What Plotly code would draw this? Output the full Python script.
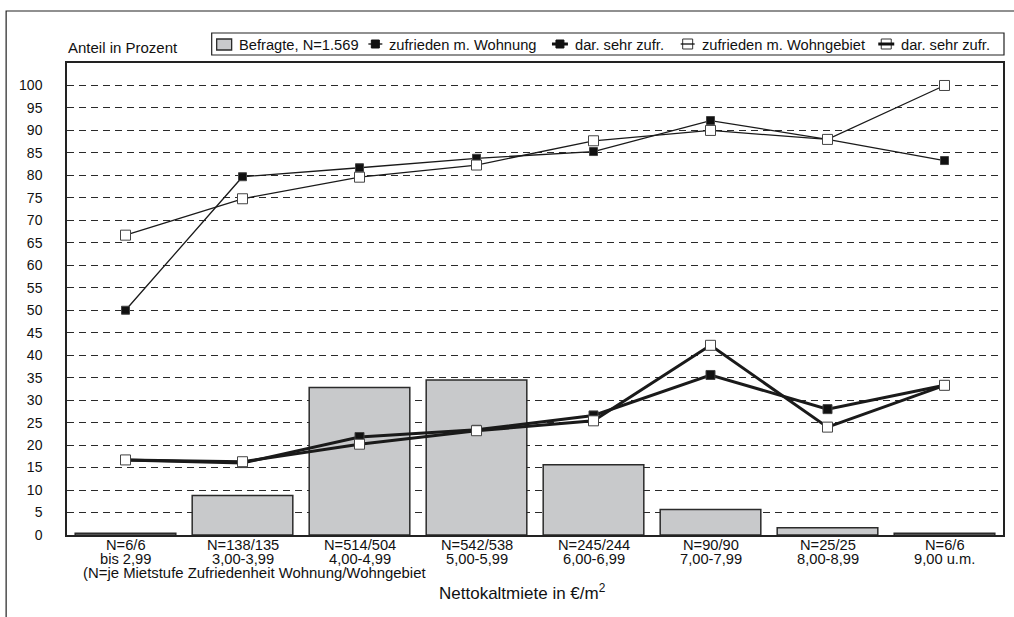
import plotly.graph_objects as go

# Mietstufen (Nettokaltmiete in €/m²) mit Fallzahlen Wohnung/Wohngebiet
n_labels = ["N=6/6", "N=138/135", "N=514/504", "N=542/538",
            "N=245/244", "N=90/90", "N=25/25", "N=6/6"]
stufen = ["bis 2,99", "3,00-3,99", "4,00-4,99", "5,00-5,99",
          "6,00-6,99", "7,00-7,99", "8,00-8,99", "9,00 u.m."]

# Anteil der Befragten je Mietstufe (N=1.569)
befragte = [0.4, 8.8, 32.8, 34.5, 15.6, 5.7, 1.6, 0.4]
# zufrieden mit der Wohnung / darunter sehr zufrieden
zufr_wohnung = [50.0, 79.7, 81.7, 83.8, 85.3, 92.2, 88.0, 83.3]
sehr_wohnung = [16.7, 16.0, 21.8, 23.4, 26.6, 35.6, 28.0, 33.3]
# zufrieden mit dem Wohngebiet / darunter sehr zufrieden
zufr_gebiet = [66.7, 74.8, 79.6, 82.3, 87.7, 90.0, 88.0, 100.0]
sehr_gebiet = [16.7, 16.3, 20.2, 23.2, 25.4, 42.2, 24.0, 33.3]

y_ticks = list(range(0, 101, 5))

FONT = "Liberation Sans, Arial, sans-serif"
INK = "#111111"
PLOT_W, PLOT_H = 938, 472
M_L, M_T = 67, 63


def px_x(p):
    return (p - M_L) / PLOT_W


def px_y(p):
    return (M_T + PLOT_H - p) / PLOT_H


x_idx = list(range(len(stufen)))

fig = go.Figure()

fig.add_trace(go.Bar(
    x=x_idx, y=befragte, name="Befragte, N=1.569",
    marker=dict(color="#c8c9cb", line=dict(color="#2b2b2b", width=1.5)),
))

series = [
    ("zufrieden m. Wohnung", zufr_wohnung, 1.3, "#111111", 8),
    ("dar. sehr zufr.", sehr_wohnung, 3.0, "#111111", 9),
    ("zufrieden m. Wohngebiet", zufr_gebiet, 1.3, "white", 10),
    ("dar. sehr zufr.", sehr_gebiet, 3.0, "white", 10),
]
for name, vals, lw, fill, size in series:
    fig.add_trace(go.Scatter(
        x=x_idx, y=vals, name=name, mode="lines+markers",
        line=dict(color="#1a1a1a", width=lw),
        marker=dict(symbol="square", size=size, color=fill,
                    line=dict(color="#444444", width=1)),
    ))

shapes = []
annos = []

# Rahmen um die gesamte Grafik (links/oben sichtbar)
shapes.append(dict(type="rect", xref="paper", yref="paper",
                   x0=px_x(6), x1=px_x(1030), y0=px_y(640), y1=px_y(11),
                   line=dict(color="#222222", width=1.2), layer="below"))

# Legende: Rahmen, Symbole und Texte in einer Zeile
LEG_Y = 44
shapes.append(dict(type="rect", xref="paper", yref="paper",
                   x0=px_x(212), x1=px_x(1006), y0=px_y(55), y1=px_y(33),
                   line=dict(color="#222222", width=1.2),
                   fillcolor="white", layer="above"))
shapes.append(dict(type="rect", xref="paper", yref="paper",
                   x0=px_x(217), x1=px_x(232), y0=px_y(50), y1=px_y(39),
                   line=dict(color="#2b2b2b", width=1.3),
                   fillcolor="#c8c9cb", layer="above"))
annos.append(("Befragte, N=1.569", 237))

legend_items = [
    # (Mittelpunkt Symbol, Linienbreite, Füllung, Text, Textbeginn)
    (376, 1.3, "#111111", series[0][0], 388),
    (561, 3.0, "#111111", series[1][0], 574),
    (689, 1.3, "white", series[2][0], 701),
    (888, 3.0, "white", series[3][0], 901),
]
for cx, lw, fill, text, tx in legend_items:
    half_line = 8 if lw > 2 else 7
    if fill == "white":
        shapes.append(dict(type="rect", xref="paper", yref="paper",
                           x0=px_x(cx - 5), x1=px_x(cx + 5),
                           y0=px_y(LEG_Y + 5), y1=px_y(LEG_Y - 5),
                           line=dict(color="#333333", width=1),
                           fillcolor="white", layer="above"))
    shapes.append(dict(type="line", xref="paper", yref="paper",
                       x0=px_x(cx - half_line), x1=px_x(cx + half_line),
                       y0=px_y(LEG_Y), y1=px_y(LEG_Y),
                       line=dict(color="#111111", width=lw), layer="above"))
    if fill != "white":
        shapes.append(dict(type="rect", xref="paper", yref="paper",
                           x0=px_x(cx - 4), x1=px_x(cx + 4),
                           y0=px_y(LEG_Y + 4), y1=px_y(LEG_Y - 4),
                           line=dict(color="#111111", width=1),
                           fillcolor="#111111", layer="above"))
    annos.append((text, tx))

annotations = []
for text, tx in annos:
    annotations.append(dict(text=text, xref="paper", yref="paper",
                            x=px_x(tx), y=px_y(LEG_Y + 1),
                            xanchor="left", yanchor="middle", showarrow=False,
                            font=dict(family=FONT, size=14.7, color=INK)))

# Kategorienbeschriftung: Fallzahl und Mietstufe in zwei engen Zeilen
for i, (n, s) in enumerate(zip(n_labels, stufen)):
    annotations.append(dict(text=n, x=i, xref="x", yref="paper",
                            y=px_y(545), xanchor="center", yanchor="middle",
                            showarrow=False,
                            font=dict(family=FONT, size=14.7, color=INK)))
    annotations.append(dict(text=s, x=i, xref="x", yref="paper",
                            y=px_y(558.5), xanchor="center", yanchor="middle",
                            showarrow=False,
                            font=dict(family=FONT, size=14.7, color=INK)))

annotations.append(dict(text="Anteil in Prozent", xref="paper", yref="paper",
                        x=px_x(66), y=px_y(47), xanchor="left",
                        yanchor="middle", showarrow=False,
                        font=dict(family=FONT, size=15, color=INK)))
annotations.append(dict(text="(N=je Mietstufe Zufriedenheit Wohnung/Wohngebiet",
                        xref="paper", yref="paper",
                        x=px_x(81), y=px_y(573), xanchor="left",
                        yanchor="middle", showarrow=False,
                        font=dict(family=FONT, size=14.9, color=INK)))
annotations.append(dict(text="Nettokaltmiete in €/m<sup>2</sup>",
                        xref="paper", yref="paper",
                        x=px_x(523), y=px_y(592), xanchor="center",
                        yanchor="middle", showarrow=False,
                        font=dict(family=FONT, size=17, color=INK)))

fig.update_layout(
    width=1014, height=617,
    margin=dict(l=M_L, r=1014 - M_L - PLOT_W, t=M_T, b=617 - M_T - PLOT_H),
    paper_bgcolor="white", plot_bgcolor="white",
    font=dict(family=FONT, size=14, color=INK),
    bargap=0.14,
    showlegend=False,
    hovermode=False,
    shapes=shapes,
    annotations=annotations,
)

fig.update_xaxes(
    range=[-0.5, len(stufen) - 0.5],
    showline=True, linecolor="#222222", linewidth=1.5, mirror=True,
    ticks="", showticklabels=False, showgrid=False, zeroline=False,
)
fig.update_yaxes(
    range=[0, 105], tickvals=y_ticks,
    showline=True, linecolor="#222222", linewidth=1.5, mirror=True,
    showgrid=True, gridcolor="#2a2a2a", gridwidth=1, griddash="7px,5px",
    zeroline=False, ticks="", ticklabelstandoff=20,
    tickfont=dict(family=FONT, size=14, color=INK),
)

fig.write_html("out.html")
